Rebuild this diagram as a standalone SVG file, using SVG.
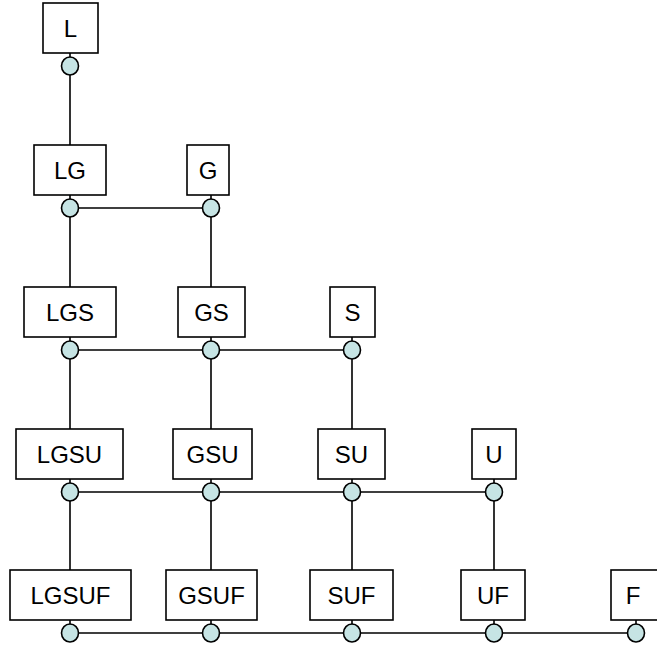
<svg xmlns="http://www.w3.org/2000/svg" width="657" height="646" viewBox="0 0 657 646">
<style>
.box{fill:#fff;stroke:#000;stroke-width:1.6}
.dot{fill:#c6e4e4;stroke:#000;stroke-width:1.6}
.lbl{font-family:"Liberation Sans",Arial,sans-serif;font-size:24px;fill:#000;text-anchor:middle;dominant-baseline:central}
.ln{stroke:#000;stroke-width:1.6;fill:none}
</style>
<rect width="657" height="646" fill="#fff"/>
<g id="connectors" class="ln">
<path d="M70 66V145M70 208V287M70 350V429M70 492V570"/>
<path d="M70 53V66M70 195V208M70 337V350M70 479V492M70 620V633"/>
<path d="M211 195V208M211 208V287M211 337V350M211 350V429M211 479V492M211 492V570M211 620V633"/>
<path d="M352 337V350M352 350V429M352 479V492M352 492V570M352 620V633"/>
<path d="M494 479V492M494 492V570M494 620V633"/>
<path d="M636 620V633"/>
<path d="M70 208H211M70 350H352M70 492H494M70 633H636"/>
</g>
<g id="L"><rect class="box" x="43" y="3" width="55" height="50"/><text class="lbl" x="70.5" y="28">L</text><ellipse class="dot" cx="70" cy="66" rx="8.5" ry="9"/></g>
<g id="LG"><rect class="box" x="34" y="145" width="72" height="50"/><text class="lbl" x="70" y="170">LG</text><ellipse class="dot" cx="70" cy="208" rx="8.5" ry="9"/></g>
<g id="G"><rect class="box" x="187" y="145" width="42" height="50"/><text class="lbl" x="208" y="170">G</text><ellipse class="dot" cx="211" cy="208" rx="8.5" ry="9"/></g>
<g id="LGS"><rect class="box" x="24" y="287" width="92" height="50"/><text class="lbl" x="70" y="312">LGS</text><ellipse class="dot" cx="70" cy="350" rx="8.5" ry="9"/></g>
<g id="GS"><rect class="box" x="178" y="287" width="67" height="50"/><text class="lbl" x="211.5" y="312">GS</text><ellipse class="dot" cx="211" cy="350" rx="8.5" ry="9"/></g>
<g id="S"><rect class="box" x="330" y="287" width="45" height="50"/><text class="lbl" x="352.5" y="312">S</text><ellipse class="dot" cx="352" cy="350" rx="8.5" ry="9"/></g>
<g id="LGSU"><rect class="box" x="16" y="429" width="107" height="50"/><text class="lbl" x="69.5" y="454">LGSU</text><ellipse class="dot" cx="70" cy="492" rx="8.5" ry="9"/></g>
<g id="GSU"><rect class="box" x="173" y="429" width="79" height="50"/><text class="lbl" x="212.5" y="454">GSU</text><ellipse class="dot" cx="211" cy="492" rx="8.5" ry="9"/></g>
<g id="SU"><rect class="box" x="318" y="429" width="67" height="50"/><text class="lbl" x="351.5" y="454">SU</text><ellipse class="dot" cx="352" cy="492" rx="8.5" ry="9"/></g>
<g id="U"><rect class="box" x="472" y="429" width="44" height="50"/><text class="lbl" x="494" y="454">U</text><ellipse class="dot" cx="494" cy="492" rx="8.5" ry="9"/></g>
<g id="LGSUF"><rect class="box" x="10" y="570" width="121" height="50"/><text class="lbl" x="70.5" y="595">LGSUF</text><ellipse class="dot" cx="70" cy="633" rx="8.5" ry="9"/></g>
<g id="GSUF"><rect class="box" x="166" y="570" width="91" height="50"/><text class="lbl" x="211.5" y="595">GSUF</text><ellipse class="dot" cx="211" cy="633" rx="8.5" ry="9"/></g>
<g id="SUF"><rect class="box" x="310" y="570" width="83" height="50"/><text class="lbl" x="351.5" y="595">SUF</text><ellipse class="dot" cx="352" cy="633" rx="8.5" ry="9"/></g>
<g id="UF"><rect class="box" x="461" y="570" width="64" height="50"/><text class="lbl" x="493" y="595">UF</text><ellipse class="dot" cx="494" cy="633" rx="8.5" ry="9"/></g>
<g id="F"><rect class="box" x="611" y="570" width="50" height="50"/><text class="lbl" x="633" y="595">F</text><ellipse class="dot" cx="636" cy="633" rx="8.5" ry="9"/></g>
</svg>
